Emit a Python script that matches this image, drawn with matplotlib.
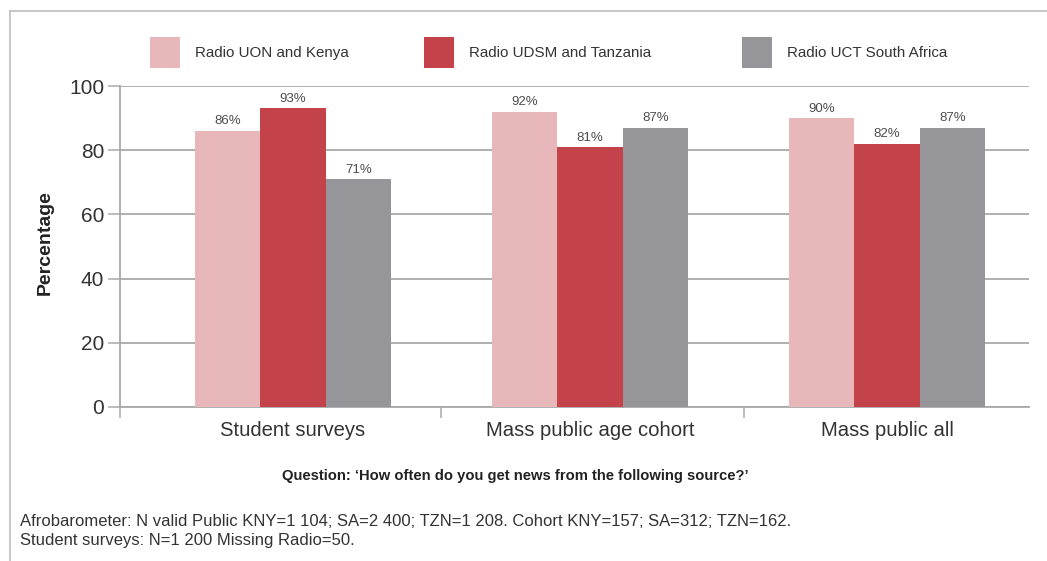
import numpy as np
import matplotlib
matplotlib.use('Agg')
import matplotlib.pyplot as plt
from matplotlib.patches import Rectangle
from matplotlib.lines import Line2D

plt.rcParams['font.family'] = ['Liberation Sans', 'DejaVu Sans']

# data
categories = ['Student surveys', 'Mass public age cohort', 'Mass public all']
series = ['Radio UON and Kenya', 'Radio UDSM and Tanzania', 'Radio UCT South Africa']
kenya = [86, 92, 90]
tanzania = [93, 81, 82]
south_africa = [71, 87, 87]
values = [kenya, tanzania, south_africa]
colors = ['#e8b7ba', '#c4424a', '#96969a']
yticks = [0, 20, 40, 60, 80, 100]

question = "Question: \u2018How often do you get news from the following source?\u2019"
notes = ["Afrobarometer: N valid Public KNY=1 104; SA=2 400; TZN=1 208. Cohort KNY=157; SA=312; TZN=162.",
         "Student surveys: N=1 200 Missing Radio=50."]

W, H = 1047, 561
fig = plt.figure(figsize=(W / 100, H / 100), dpi=100)

# axes placed in pixel terms
ax = fig.add_axes([120 / W, (H - 407) / H, (1029 - 120) / W, (407 - 86) / H])

x = np.arange(len(categories))
width = 0.22
grid_col = '#a9a9a9'
text_col = '#333333'

ax.set_axisbelow(True)
for i, (vals, col) in enumerate(zip(values, colors)):
    bars = ax.bar(x + (i - 1) * width, vals, width, color=col, zorder=3)
    for b, v in zip(bars, vals):
        ax.annotate(f'{v}%', (b.get_x() + b.get_width() / 2, v),
                    xytext=(0, 2.5), textcoords='offset points',
                    ha='center', va='bottom', fontsize=9.5, color='#4d4d4d')

ax.set_xlim(-0.582, 2.478)
ax.set_ylim(0, 100)
ax.set_yticks(yticks)
ax.yaxis.grid(True, color=grid_col, lw=1.3)
ax.tick_params(axis='y', length=8.5, width=1.1, color=grid_col, pad=3,
               labelsize=15, labelcolor=text_col)

ax.set_xticks(x)
ax.set_xticklabels(categories)
ax.tick_params(axis='x', which='major', length=0, pad=10, labelsize=14.6, labelcolor=text_col)
ax.set_xticks([-0.582, 0.5, 1.518], minor=True)
ax.tick_params(axis='x', which='minor', length=8, width=1.1, color=grid_col)

for s in ['top', 'right']:
    ax.spines[s].set_visible(False)
for s in ['left', 'bottom']:
    ax.spines[s].set_color(grid_col)
    ax.spines[s].set_linewidth(1.3)

fig.text(45 / W, 1 - 243 / H, 'Percentage', rotation=90, ha='center', va='center',
         fontsize=14, fontweight='bold', color='#222222')

# legend drawn by hand to keep the spacing of the original
leg_x = [150, 424, 742]
for name, col, lx in zip(series, colors, leg_x):
    fig.add_artist(Rectangle((lx / W, 1 - 68 / H), 30 / W, 31 / H,
                             transform=fig.transFigure, color=col, lw=0))
    fig.text((lx + 45) / W, 1 - 53 / H, name, ha='left', va='center',
             fontsize=10.9, color=text_col)

fig.text(515 / W, 1 - 476 / H, question, ha='center', va='center',
         fontsize=10.6, fontweight='bold', color='#222222')
for j, line in enumerate(notes):
    fig.text(20 / W, 1 - (522 + 19 * j) / H, line, ha='left', va='center',
             fontsize=12, color=text_col)

# outer frame
frame_col = '#bdbdbd'
fig.add_artist(Line2D([10 / W, 1], [1 - 10.5 / H, 1 - 10.5 / H], transform=fig.transFigure,
                      color=frame_col, lw=1.2))
fig.add_artist(Line2D([10 / W, 10 / W], [0, 1 - 10.5 / H], transform=fig.transFigure,
                      color=frame_col, lw=1.2))

fig.savefig('out.png', dpi=100)
